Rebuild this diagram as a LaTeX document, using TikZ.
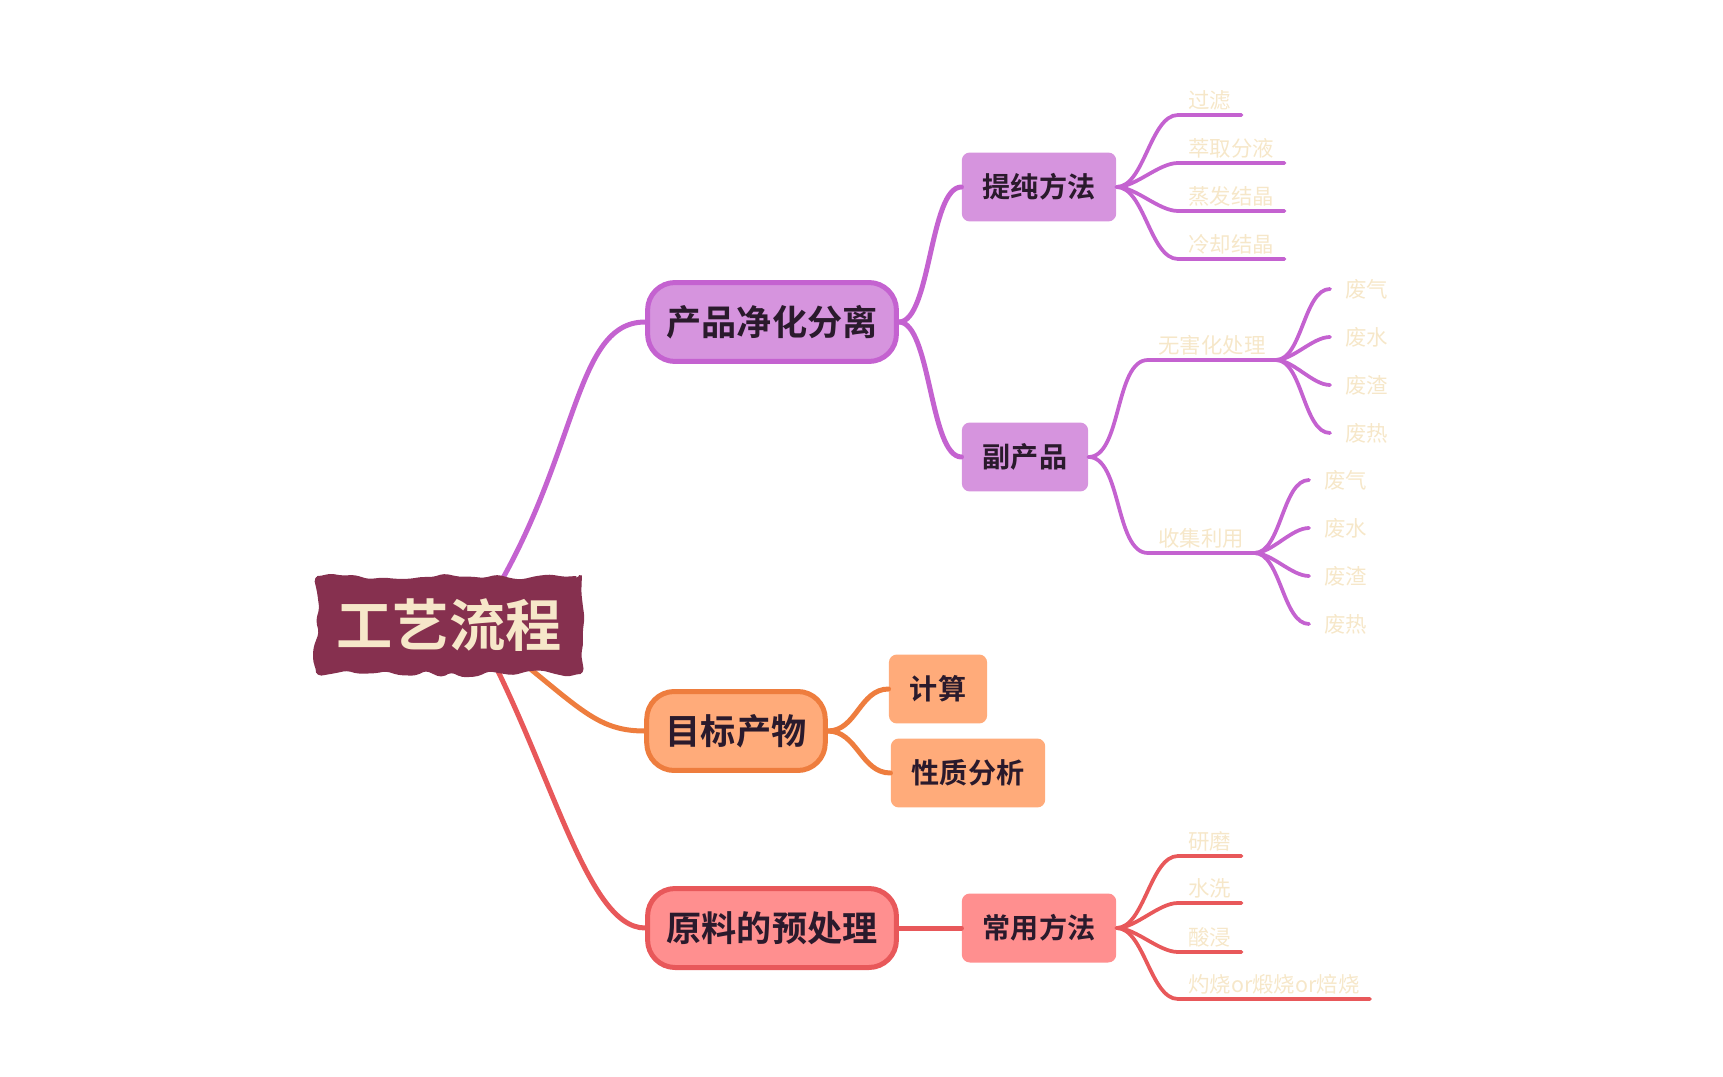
\documentclass[tikz,border=0pt]{standalone}
\usepackage{fontspec}
\setmainfont{Noto Sans CJK SC}[BoldFont={Noto Sans CJK SC Bold}]
\usetikzlibrary{backgrounds,decorations.pathmorphing}

\definecolor{purpleline}{HTML}{C462D0}
\definecolor{purplefill}{HTML}{D694DE}
\definecolor{orangeline}{HTML}{EE7D3E}
\definecolor{orangefill}{HTML}{FFAB7A}
\definecolor{redline}{HTML}{E8585A}
\definecolor{redfill}{HTML}{FF8F8F}
\definecolor{rootfill}{HTML}{86304F}
\definecolor{cream}{HTML}{F6E7C9}
\definecolor{inkdark}{HTML}{2A1A2C}

\begin{document}
\begin{tikzpicture}[x=0.02cm, y=-0.02cm,
    rootbox/.style={fill=rootfill, draw=rootfill, line width=0.06cm, line join=round,
      rounded corners=0.08cm, decorate,
      decoration={random steps, segment length=0.26cm, amplitude=0.07cm},
      minimum height=1.9cm, inner xsep=0.38cm, text=cream,
      font=\fontsize{32}{32}\selectfont\bfseries},
    topic/.style={rounded corners=0.55cm, line width=0.1cm, minimum height=1.58cm,
      inner xsep=0.38cm, text=inkdark, font=\fontsize{20}{20}\selectfont\bfseries},
    sub/.style={rounded corners=0.16cm, minimum height=1.38cm, inner xsep=0.42cm,
      text=inkdark, font=\fontsize{16}{16}\selectfont\bfseries},
    leaf/.style={text=cream, inner xsep=0.2cm, inner ysep=0.08cm,
      font=\fontsize{12.2}{12.2}\selectfont},
    tip/.style={text=cream, inner xsep=0.3cm, font=\fontsize{12.2}{12.2}\selectfont},
    link/.style={line width=0.1cm, line cap=round},
    twig/.style={line width=0.075cm, line cap=round, looseness=0.75}]

  \pgfmathsetseed{7}
  \useasboundingbox (0,0) rectangle (1723,1077);

  % Central topic and main branches
  \node[rootbox] (root) at (449,625) {工艺流程};
  \node[topic, fill=purplefill, draw=purpleline] (cpjh) at (772,322) {产品净化分离};
  \node[topic, fill=orangefill, draw=orangeline] (mbcw) at (736,731) {目标产物};
  \node[topic, fill=redfill, draw=redline] (ylcl) at (772,928) {原料的预处理};

  % Sub topics
  \node[sub, fill=purplefill] (tcff) at (1039,187) {提纯方法};
  \node[sub, fill=purplefill] (fcp) at (1025,457) {副产品};
  \node[sub, fill=orangefill] (js) at (938,689) {计算};
  \node[sub, fill=orangefill] (xzfx) at (968,773) {性质分析};
  \node[sub, fill=redfill] (cyff) at (1039,928) {常用方法};

  % Leaves of 提纯方法
  \node[leaf, anchor=south west] (gl) at (1178,115) {过滤};
  \node[leaf, anchor=south west] (cqfy) at (1178,163) {萃取分液};
  \node[leaf, anchor=south west] (zfjj) at (1178,211) {蒸发结晶};
  \node[leaf, anchor=south west] (lqjj) at (1178,259) {冷却结晶};

  % Leaves of 副产品
  \node[leaf, anchor=south west] (whcl) at (1148,360) {无害化处理};
  \node[leaf, anchor=south west] (sjly) at (1148,553) {收集利用};
  \node[tip, anchor=west] (wfq) at (1330,289) {废气};
  \node[tip, anchor=west] (wfs) at (1330,337) {废水};
  \node[tip, anchor=west] (wfz) at (1330,385) {废渣};
  \node[tip, anchor=west] (wfr) at (1330,433) {废热};
  \node[tip, anchor=west] (sfq) at (1309,480) {废气};
  \node[tip, anchor=west] (sfs) at (1309,528) {废水};
  \node[tip, anchor=west] (sfz) at (1309,576) {废渣};
  \node[tip, anchor=west] (sfr) at (1309,624) {废热};

  % Leaves of 常用方法
  \node[leaf, anchor=south west] (ym) at (1178,856) {研磨};
  \node[leaf, anchor=south west] (sx) at (1178,903) {水洗};
  \node[leaf, anchor=south west] (sj) at (1178,952) {酸浸};
  \node[leaf, anchor=south west] (zs) at (1178,999) {灼烧or煅烧or焙烧};

  % Branches out of the central topic
  \begin{scope}[on background layer]
    \draw[link, purpleline] ([xshift=0.5cm]root.center) .. controls (580,470) and (570,322) .. (cpjh.west);
    \draw[link, orangeline] ([xshift=0.5cm]root.center) .. controls (575,700) and (590,731) .. (mbcw.west);
    \draw[link, redline] ([xshift=0.5cm]root.center) .. controls (550,760) and (585,928) .. (ylcl.west);
  \end{scope}

  \draw[link, purpleline] (cpjh.east) to[out=0, in=180, looseness=0.55] (tcff.west);
  \draw[link, purpleline] (cpjh.east) to[out=0, in=180, looseness=0.55] (fcp.west);
  \draw[link, orangeline] (mbcw.east) to[out=0, in=180] (js.west);
  \draw[link, orangeline] (mbcw.east) to[out=0, in=180] (xzfx.west);
  \draw[link, redline] (ylcl.east) -- (cyff.west);

  % Underlined leaves
  \draw[twig, purpleline] (tcff.east) to[out=0, in=180] (gl.south west) -- (gl.south east);
  \draw[twig, purpleline] (tcff.east) to[out=0, in=180] (cqfy.south west) -- (cqfy.south east);
  \draw[twig, purpleline] (tcff.east) to[out=0, in=180] (zfjj.south west) -- (zfjj.south east);
  \draw[twig, purpleline] (tcff.east) to[out=0, in=180] (lqjj.south west) -- (lqjj.south east);

  \draw[twig, purpleline] (fcp.east) to[out=0, in=180] (whcl.south west) -- (whcl.south east);
  \draw[twig, purpleline] (fcp.east) to[out=0, in=180] (sjly.south west) -- (sjly.south east);

  \draw[twig, purpleline] (whcl.south east) to[out=0, in=180] (wfq.west);
  \draw[twig, purpleline] (whcl.south east) to[out=0, in=180] (wfs.west);
  \draw[twig, purpleline] (whcl.south east) to[out=0, in=180] (wfz.west);
  \draw[twig, purpleline] (whcl.south east) to[out=0, in=180] (wfr.west);
  \draw[twig, purpleline] (sjly.south east) to[out=0, in=180] (sfq.west);
  \draw[twig, purpleline] (sjly.south east) to[out=0, in=180] (sfs.west);
  \draw[twig, purpleline] (sjly.south east) to[out=0, in=180] (sfz.west);
  \draw[twig, purpleline] (sjly.south east) to[out=0, in=180] (sfr.west);

  \draw[twig, redline] (cyff.east) to[out=0, in=180] (ym.south west) -- (ym.south east);
  \draw[twig, redline] (cyff.east) to[out=0, in=180] (sx.south west) -- (sx.south east);
  \draw[twig, redline] (cyff.east) to[out=0, in=180] (sj.south west) -- (sj.south east);
  \draw[twig, redline] (cyff.east) to[out=0, in=180] (zs.south west) -- (zs.south east);
\end{tikzpicture}
\end{document}
